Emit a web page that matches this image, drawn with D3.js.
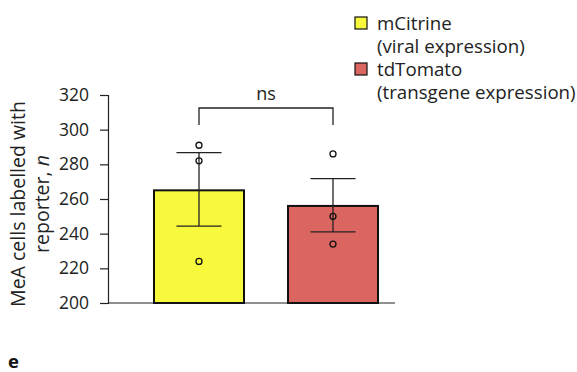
<!DOCTYPE html>
<html><head><meta charset="utf-8">
<script src="https://cdn.jsdelivr.net/npm/d3@7"></script>
<style>body{margin:0;background:#fff}svg{display:block}text{font-family:"Open Sans",sans-serif}</style>
</head><body><svg id="c" width="577" height="372"></svg>
<script>
const categories = ["mCitrine", "tdTomato"];
const legendSub = ["(viral expression)", "(transgene expression)"];
const means = [265, 256];
const errUp = [286.7, 271.7];
const errLo = [244.4, 241];
const points = [[291, 282, 224], [286, 250, 234]];
const yTicks = [200, 220, 240, 260, 280, 300, 320];
const colors = ["#f8f83c", "#db6560"];

const svg = d3.select("#c");
const y = d3.scaleLinear().domain([200, 320]).range([303, 95]);
const x = d3.scaleBand().domain(categories).range([154, 378]).paddingInner(44 / 134).paddingOuter(0);

// axis
const ax = svg.append("g").attr("transform", "translate(108,0)")
  .call(d3.axisLeft(y).tickValues(yTicks).tickSize(8).tickPadding(11));
ax.select(".domain").attr("stroke", "#222").attr("stroke-width", 1.2);
ax.selectAll(".tick line").attr("stroke", "#222").attr("stroke-width", 1.2);
ax.selectAll(".tick text").attr("font-size", 17.5).attr("fill", "#222").attr("font-family", '"Open Sans",sans-serif');

svg.append("line").attr("x1", 108).attr("x2", 395).attr("y1", y(200)).attr("y2", y(200))
  .attr("stroke", "#222").attr("stroke-width", 1.2);

// bars
svg.selectAll("rect.bar").data(categories).enter().append("rect")
  .attr("x", d => x(d)).attr("width", x.bandwidth())
  .attr("y", (d, i) => y(means[i])).attr("height", (d, i) => y(200) - y(means[i]))
  .attr("fill", (d, i) => colors[i]).attr("stroke", "#111").attr("stroke-width", 2);

// error bars
categories.forEach((c, i) => {
  const cx = x(c) + x.bandwidth() / 2;
  const g = svg.append("g").attr("stroke", "#222").attr("stroke-width", 1.3);
  g.append("line").attr("x1", cx).attr("x2", cx).attr("y1", y(errUp[i])).attr("y2", y(errLo[i]));
  [errUp[i], errLo[i]].forEach(v => g.append("line").attr("x1", cx - 22.5).attr("x2", cx + 22.5).attr("y1", y(v)).attr("y2", y(v)));
  points[i].forEach(p => svg.append("circle").attr("cx", cx).attr("cy", y(p)).attr("r", 3)
    .attr("fill", "none").attr("stroke", "#111").attr("stroke-width", 1.3));
});

// significance bracket
const c0 = x(categories[0]) + x.bandwidth() / 2, c1 = x(categories[1]) + x.bandwidth() / 2;
svg.append("path").attr("d", `M${c0},125V108H${c1}V125`).attr("fill", "none").attr("stroke", "#222").attr("stroke-width", 1.3);
svg.append("text").attr("x", (c0 + c1) / 2).attr("y", 100).attr("text-anchor", "middle").attr("font-size", 18).attr("fill", "#222").text("ns");

// y label
const yl = svg.append("text").attr("transform", "translate(0,204) rotate(-90)").attr("text-anchor", "middle").attr("font-size", 19.5).attr("fill", "#222");
yl.append("tspan").attr("x", 0).attr("y", 25).text("MeA cells labelled with");
const t2 = yl.append("tspan").attr("x", 0).attr("y", 49);
t2.append("tspan").text("reporter, ");
t2.append("tspan").attr("font-style", "italic").text("n");

// legend
categories.forEach((c, i) => {
  const ly = 23 + i * 46;
  svg.append("rect").attr("x", 355).attr("y", ly - 6).attr("width", 12).attr("height", 12)
    .attr("fill", colors[i]).attr("stroke", "#111").attr("stroke-width", 1.2);
  svg.append("text").attr("x", 377).attr("y", ly + 6.5).attr("font-size", 18.7).attr("fill", "#222").text(c);
  svg.append("text").attr("x", 377).attr("y", ly + 29.5).attr("font-size", 18.7).attr("fill", "#222").text(legendSub[i]);
});

svg.append("text").attr("x", 8).attr("y", 368).attr("font-size", 18.5).attr("font-weight", "bold").attr("fill", "#111").text("e");
</script></body></html>
